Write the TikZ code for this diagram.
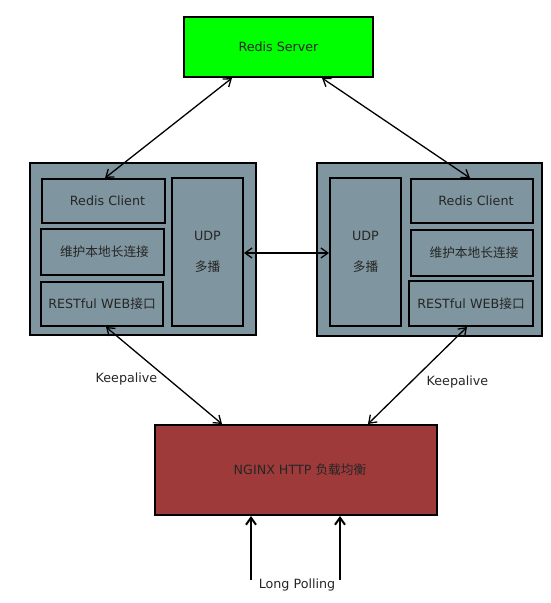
\documentclass[tikz,border=0pt]{standalone}
\usepackage{fontspec}
\setmainfont{DejaVu Sans}
\newfontfamily\cjk{Noto Sans CJK SC}
\usetikzlibrary{arrows.meta,calc}
\definecolor{srvgreen}{HTML}{00FF00}
\definecolor{nodegray}{HTML}{7F959F}
\definecolor{nginxred}{HTML}{9E3A3A}
\tikzset{
  boxstyle/.style={draw=black, line width=2pt, inner sep=0pt, font=\fontsize{12.7}{15}\selectfont, text=black!85},
  conn/.style={line width=1.3pt, {Straight Barb[length=7pt,width=10pt]}-{Straight Barb[length=7pt,width=10pt]}},
  upconn/.style={line width=2pt, -{Straight Barb[length=7pt,width=10pt]}},
  lbl/.style={font=\fontsize{12.7}{15}\selectfont, text=black!85, inner sep=0pt}
}
\begin{document}
\begin{tikzpicture}[x=1pt,y=-1pt]
\useasboundingbox (0,0) rectangle (551,603);
% Redis Server
\node[boxstyle, fill=srvgreen, minimum width=189pt, minimum height=60pt] (srv) at (278.5,47) {Redis Server};
% left container
\node[boxstyle, fill=nodegray, minimum width=226pt, minimum height=172pt] (lc) at (143,249) {};
\node[boxstyle, fill=nodegray, minimum width=123pt, minimum height=44pt] (lrc) at (103.5,201) {\hspace{8pt}Redis Client};
\node[boxstyle, fill=nodegray, minimum width=123pt, minimum height=46pt] (llc) at (102.5,252) {\hspace{4pt}\cjk 维护本地长连接};
\node[boxstyle, fill=nodegray, minimum width=122pt, minimum height=44pt] (lrest) at (102,304) {RESTful WEB{\cjk 接口}};
\node[boxstyle, fill=nodegray, minimum width=71pt, minimum height=148pt, align=center] (ludp) at (207.5,252) {UDP\\[16pt]{\cjk 多播}};
% right container
\node[boxstyle, fill=nodegray, minimum width=225pt, minimum height=173pt] (rc) at (429.5,249.5) {};
\node[boxstyle, fill=nodegray, minimum width=71pt, minimum height=148pt, align=center] (rudp) at (365.5,252) {UDP\\[16pt]{\cjk 多播}};
\node[boxstyle, fill=nodegray, minimum width=122pt, minimum height=44pt] (rrc) at (472,201) {\hspace{8pt}Redis Client};
\node[boxstyle, fill=nodegray, minimum width=122pt, minimum height=46pt] (rlc) at (472,253) {\hspace{4pt}\cjk 维护本地长连接};
\node[boxstyle, fill=nodegray, minimum width=124pt, minimum height=45pt] (rrest) at (471,303.5) {RESTful WEB{\cjk 接口}};
% NGINX
\node[boxstyle, fill=nginxred, minimum width=282pt, minimum height=90pt] (ngx) at (296,470) {\hspace{8pt}NGINX HTTP {\cjk 负载均衡}};
% connectors
\draw[conn] ($(srv.south)+(-46.5,0)$) -- ($(lrc.north)+(1.5,0)$);
\draw[conn] ($(srv.south)+(43.5,0)$) -- ($(rrc.north)+(-2,0)$);
\draw[conn] (ludp.east |- 0,253) -- (rudp.west |- 0,253);
\draw[conn] ($(lrest.south)+(4,0)$) -- ($(ngx.north)+(-74,0)$);
\draw[conn] ($(rrest.south)+(-4,0)$) -- ($(ngx.north)+(72,0)$);
\coordinate (lp1) at (251,580);
\coordinate (lp2) at (340,580);
\draw[upconn] (lp1) -- (lp1 |- ngx.south);
\draw[upconn] (lp2) -- (lp2 |- ngx.south);
% labels
\node[lbl] (ka1) at (126.5,379) {Keepalive};
\node[lbl] (ka2) at (457.5,382) {Keepalive};
\node[lbl] (lp) at (297,585) {Long Polling};
\end{tikzpicture}
\end{document}
